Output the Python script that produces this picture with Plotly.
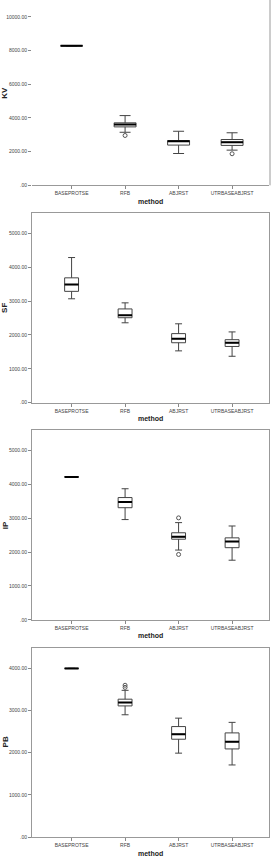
import plotly.graph_objects as go

categories = ["BASEPROTSE", "RFB", "ABJRST", "UTRBASEABJRST"]

# Panel 1 (KV)
kv_lo  = [8280, 3150, 1890, 2090]
kv_q1  = [8280, 3470, 2390, 2370]
kv_med = [8280, 3610, 2620, 2560]
kv_q3  = [8280, 3710, 2660, 2720]
kv_hi  = [8280, 4140, 3210, 3120]
kv_out_cat = [1, 3]
kv_out_val = [2960, 1875]

# Panel 2 (SF)
sf_lo  = [3070, 2360, 1530, 1370]
sf_q1  = [3290, 2510, 1770, 1660]
sf_med = [3490, 2580, 1890, 1770]
sf_q3  = [3690, 2770, 2040, 1860]
sf_hi  = [4290, 2950, 2330, 2090]
sf_out_cat = []
sf_out_val = []

# Panel 3 (IP)
ip_lo  = [4220, 2960, 2060, 1760]
ip_q1  = [4220, 3310, 2380, 2130]
ip_med = [4220, 3480, 2450, 2310]
ip_q3  = [4220, 3610, 2570, 2420]
ip_hi  = [4220, 3870, 2870, 2770]
ip_out_cat = [2, 2]
ip_out_val = [3010, 1930]

# Panel 4 (PB)
pb_lo  = [4000, 2900, 1990, 1710]
pb_q1  = [4000, 3110, 2320, 2090]
pb_med = [4000, 3190, 2440, 2260]
pb_q3  = [4000, 3270, 2620, 2470]
pb_hi  = [4000, 3480, 2820, 2720]
pb_out_cat = [1, 1]
pb_out_val = [3600, 3550]

ticks_10k = [0, 2000, 4000, 6000, 8000, 10000]
ticks_10k_text = [".00", "2000.00", "4000.00", "6000.00", "8000.00", "10000.00"]
ticks_5k = [0, 1000, 2000, 3000, 4000, 5000]
ticks_5k_text = [".00", "1000.00", "2000.00", "3000.00", "4000.00", "5000.00"]
ticks_4k = [0, 1000, 2000, 3000, 4000]
ticks_4k_text = [".00", "1000.00", "2000.00", "3000.00", "4000.00"]

W, H = 277, 857
def py(px):
    return 1 - px / H

panels = [
    dict(name="KV", lo=kv_lo, q1=kv_q1, med=kv_med, q3=kv_q3, hi=kv_hi,
         oc=kv_out_cat, ov=kv_out_val, top=0, bot=186, yr=[0, 11000],
         tv=ticks_10k, tt=ticks_10k_text, bw=0.41, frame=False),
    dict(name="SF", lo=sf_lo, q1=sf_q1, med=sf_med, q3=sf_q3, hi=sf_hi,
         oc=sf_out_cat, ov=sf_out_val, top=214, bot=404, yr=[0, 5600],
         tv=ticks_5k, tt=ticks_5k_text, bw=0.26, frame=True),
    dict(name="IP", lo=ip_lo, q1=ip_q1, med=ip_med, q3=ip_q3, hi=ip_hi,
         oc=ip_out_cat, ov=ip_out_val, top=432, bot=622, yr=[0, 5590],
         tv=ticks_5k, tt=ticks_5k_text, bw=0.26, frame=True),
    dict(name="PB", lo=pb_lo, q1=pb_q1, med=pb_med, q3=pb_q3, hi=pb_hi,
         oc=pb_out_cat, ov=pb_out_val, top=650, bot=840, yr=[0, 4490],
         tv=ticks_4k, tt=ticks_4k_text, bw=0.26, frame=True),
]

fig = go.Figure()
xi = list(range(len(categories)))
x0, x1 = 32 / W, 269 / W
layout = dict(width=W, height=H, margin=dict(l=0, r=0, t=0, b=0),
              paper_bgcolor="white", plot_bgcolor="white", showlegend=False,
              font=dict(family="Liberation Sans, Arial", color="#333"))
annotations = []
shapes = []
for k, p in enumerate(panels):
    sfx = "" if k == 0 else str(k + 1)
    xa, ya = "x" + sfx, "y" + sfx
    fig.add_trace(go.Box(
        x=xi, q1=p["q1"], median=p["med"], q3=p["q3"],
        lowerfence=p["lo"], upperfence=p["hi"],
        width=p["bw"], whiskerwidth=0.5, boxpoints=False,
        fillcolor="white", line=dict(color="#444", width=1),
        xaxis=xa, yaxis=ya, hoverinfo="skip"))
    # emphasised median lines
    for i in xi:
        fig.add_trace(go.Scatter(
            x=[i - p["bw"] / 2, i + p["bw"] / 2], y=[p["med"][i], p["med"][i]],
            mode="lines", line=dict(color="black", width=2),
            xaxis=xa, yaxis=ya, hoverinfo="skip"))
    if p["oc"]:
        fig.add_trace(go.Scatter(
            x=p["oc"], y=p["ov"], mode="markers",
            marker=dict(symbol="circle-open", size=4, color="#555", line=dict(width=1)),
            xaxis=xa, yaxis=ya, hoverinfo="skip"))
    dom = [py(p["bot"]), py(p["top"])]
    layout["xaxis" + sfx] = dict(
        domain=[x0, x1], anchor=ya, range=[-0.74, 3.69],
        tickvals=xi, ticktext=categories, tickfont=dict(size=5, color="#444"),
        ticks="outside", ticklen=3, tickcolor="#888",
        showline=True, linecolor="#999", linewidth=1, mirror=p["frame"],
        showgrid=False, zeroline=False, fixedrange=True)
    layout["yaxis" + sfx] = dict(
        domain=dom, anchor=xa, range=p["yr"],
        tickvals=p["tv"], ticktext=p["tt"], tickfont=dict(size=5, color="#444"),
        ticks="outside", ticklen=3, tickcolor="#888",
        showline=p["frame"], linecolor="#999", linewidth=1, mirror=p["frame"],
        showgrid=False, zeroline=False, fixedrange=True)
    if not p["frame"]:
        shapes.append(dict(type="line", xref="paper", yref="paper",
                           x0=270 / W, x1=270 / W, y0=dom[0], y1=1,
                           line=dict(color="#999", width=1)))
    annotations.append(dict(text="<b>" + p["name"] + "</b>", textangle=-90,
                            xref="paper", yref="paper", x=5 / W,
                            y=(dom[0] + dom[1]) / 2, showarrow=False,
                            font=dict(size=8, color="#222"),
                            xanchor="center", yanchor="middle"))
    annotations.append(dict(text="<b>method</b>", xref="paper", yref="paper",
                            x=(x0 + x1) / 2, y=py(p["bot"] + 16),
                            showarrow=False, font=dict(size=7, color="#222"),
                            xanchor="center", yanchor="middle"))

layout["annotations"] = annotations
layout["shapes"] = shapes
fig.update_layout(**layout)
fig.write_html("out.html")
